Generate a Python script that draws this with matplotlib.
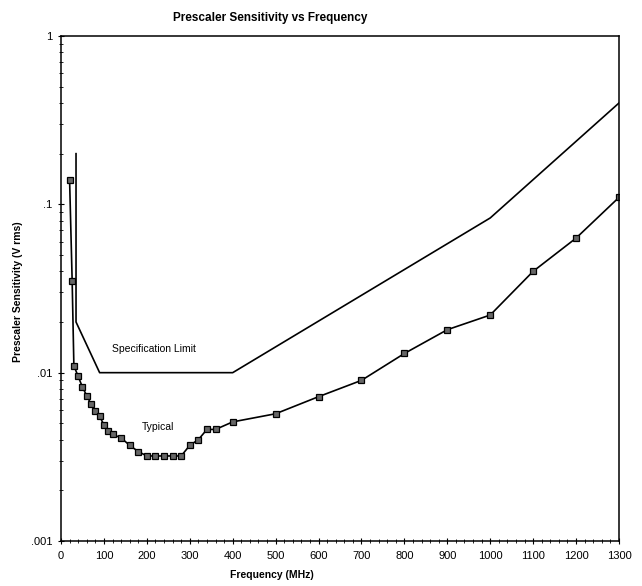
import matplotlib
matplotlib.use("Agg")
import matplotlib.pyplot as plt
from matplotlib.ticker import FixedLocator, FixedFormatter, LogLocator, NullFormatter, MultipleLocator

plt.rcParams['font.family'] = ['Liberation Sans', 'DejaVu Sans']

# Typical sensitivity (MHz, V rms)
typ_freq = [20, 26, 30, 40, 50, 60, 70, 80, 90, 100, 110, 120, 140, 160, 180,
            200, 220, 240, 260, 280, 300, 320, 340, 360, 400, 500, 600, 700,
            800, 900, 1000, 1100, 1200, 1300]
typ_vals = [0.14, 0.035, 0.011, 0.0095, 0.0082, 0.0073, 0.0065, 0.0059, 0.0055,
            0.0049, 0.0045, 0.0043, 0.0041, 0.0037, 0.0034,
            0.0032, 0.0032, 0.0032, 0.0032, 0.0032, 0.0037, 0.0040, 0.0046,
            0.0046, 0.0051, 0.0057, 0.0072, 0.009, 0.013, 0.018, 0.022,
            0.040, 0.063, 0.11]

# Specification limit
spec_freq = [35, 35, 90, 400, 1000, 1300]
spec_vals = [0.2, 0.02, 0.01, 0.01, 0.083, 0.4]

yticks = [0.001, 0.01, 0.1, 1]
ytick_labels = ['.001', '.01', '.1', '1']
xticks = list(range(0, 1301, 100))

fig = plt.figure(figsize=(6.42, 5.86), dpi=100)
ax = fig.add_axes([61/642, 45/586, 558/642, 505/586])

ax.plot(spec_freq, spec_vals, color='black', lw=1.2)
ax.plot(typ_freq, typ_vals, color='black', lw=1.2, marker='s', ms=4,
        mfc='#666666', mec='black', mew=0.9)

ax.set_yscale('log')
ax.set_ylim(0.001, 1)
ax.set_xlim(0, 1300)
ax.yaxis.set_major_locator(FixedLocator(yticks))
ax.yaxis.set_major_formatter(FixedFormatter(ytick_labels))
ax.yaxis.set_minor_locator(LogLocator(base=10, subs=range(2, 10)))
ax.yaxis.set_minor_formatter(NullFormatter())
ax.set_xticks(xticks)
ax.xaxis.set_minor_locator(MultipleLocator(20))
ax.tick_params(axis='both', which='major', direction='inout', length=5, width=0.8, labelsize=8)
ax.tick_params(axis='both', which='minor', direction='inout', length=3, width=0.6)
ax.tick_params(axis='x', pad=5)
for s in ax.spines.values():
    s.set_linewidth(1.1)

ax.text(119, 0.0138, 'Specification Limit', fontsize=7.5, ha='left', va='center')
ax.text(227, 0.00475, 'Typical', fontsize=7.5, ha='center', va='center')

fig.text(270/642, 1 - 18/586, 'Prescaler Sensitivity vs Frequency', fontsize=8.5,
         fontweight='bold', ha='center', va='center')
fig.text(272/642, 1 - 575/586, 'Frequency (MHz)', fontsize=7.5,
         fontweight='bold', ha='center', va='center')
fig.text(18/642, 1 - 292/586, 'Prescaler Sensitivity (V rms)', fontsize=7.5,
         fontweight='bold', ha='center', va='center', rotation=90)

fig.savefig('out.png', dpi=100)
